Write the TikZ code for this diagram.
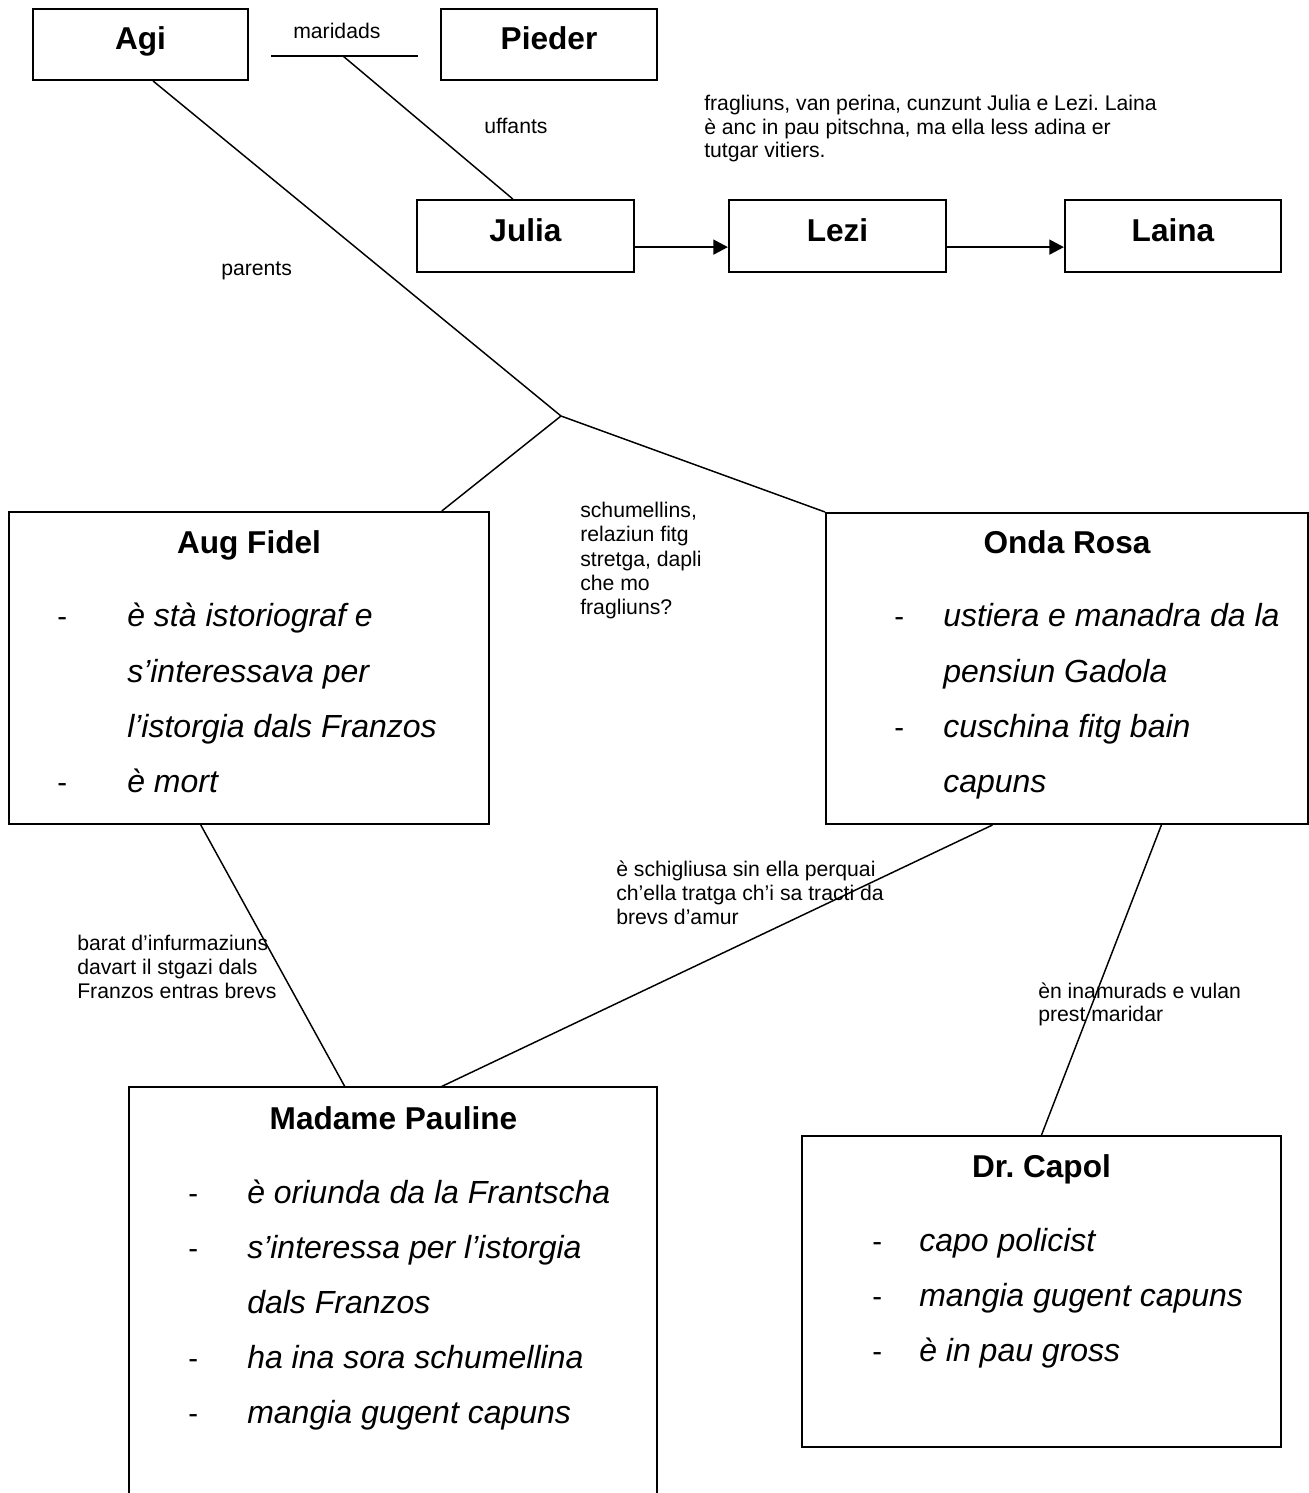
\documentclass[tikz,border=0pt]{standalone}
\usepackage{fontspec}
\setmainfont{Liberation Sans}
\usetikzlibrary{arrows.meta,calc,fit}
\frenchspacing
\begin{document}
\begin{tikzpicture}[x=0.75pt,y=-0.75pt,
  box/.style={draw, line width=1.5pt, inner sep=0pt},
  frame/.style={inner sep=0pt},
  ttl/.style={font=\fontsize{23.7}{28}\selectfont\bfseries, inner sep=0pt, anchor=base},
  itm/.style={font=\fontsize{24}{28}\selectfont\itshape, inner sep=0pt, anchor=base west},
  dsh/.style={font=\fontsize{22}{28}\selectfont, inner sep=0pt, anchor=base west},
  lab/.style={font=\fontsize{15.9}{17.6}\selectfont, inner sep=0pt, anchor=base west},
  conn/.style={line width=1.1pt},
  arr/.style={line width=2pt, -{Triangle[length=11pt,width=11pt]}}]

\useasboundingbox (0,0) rectangle (1309,1493);

% boxes
\node[box, fit={(33,9) (248,80)}] (agi) {};
\node[box, fit={(441,9) (657,80)}] (pieder) {};
\node[box, fit={(417,200) (634,272)}] (julia) {};
\node[box, fit={(729,200) (946,272)}] (lezi) {};
\node[box, fit={(1065,200) (1281,272)}] (laina) {};
\node[box, fit={(9,512) (489,824)}] (aug) {};
\node[box, fit={(826,513) (1308,824)}] (onda) {};
\node[frame, fit={(129,1087) (657,1498)}] (mp) {};
\draw[line width=1.5pt] (mp.south west) -- (mp.north west) -- (mp.north east) -- (mp.south east);
\node[box, fit={(802,1136) (1281,1447)}] (capol) {};

% titles
\node[ttl] (agit) at (140.5,49) {Agi};
\node[ttl] (piedert) at (549,49) {Pieder};
\node[ttl] (juliat) at (525.5,241) {Julia};
\node[ttl] (lezit) at (837.5,241) {Lezi};
\node[ttl] (lainat) at (1173,241) {Laina};
\node[ttl] (augt) at (249,553) {Aug Fidel};
\node[ttl] (ondat) at (1067,553) {Onda Rosa};
\node[ttl] (mpt) at (393.5,1129) {Madame Pauline};
\node[ttl] (capolt) at (1041.5,1177) {Dr. Capol};

% Aug Fidel items
\node[dsh] (a1d) at (57,626) {-};
\node[itm] (a1) at (127,626) {è stà istoriograf e};
\node[itm] (a2) at (127,682) {s’interessava per};
\node[itm] (a3) at (127,737) {l’istorgia dals Franzos};
\node[dsh] (a4d) at (57,792) {-};
\node[itm] (a4) at (127,792) {è mort};

% Onda Rosa items
\node[dsh] (o1d) at (894,626) {-};
\node[itm] (o1) at (943,626) {ustiera e manadra da la};
\node[itm] (o2) at (943,682) {pensiun Gadola};
\node[dsh] (o3d) at (894,737) {-};
\node[itm] (o3) at (943,737) {cuschina fitg bain};
\node[itm] (o4) at (943,792) {capuns};

% Madame Pauline items
\node[dsh] (p1d) at (188,1203) {-};
\node[itm] (p1) at (247,1203) {è oriunda da la Frantscha};
\node[dsh] (p2d) at (188,1258) {-};
\node[itm] (p2) at (247,1258) {s’interessa per l’istorgia};
\node[itm] (p3) at (247,1313) {dals Franzos};
\node[dsh] (p4d) at (188,1368) {-};
\node[itm] (p4) at (247,1368) {ha ina sora schumellina};
\node[dsh] (p5d) at (188,1423) {-};
\node[itm] (p5) at (247,1423) {mangia gugent capuns};

% Dr. Capol items
\node[dsh] (c1d) at (872,1251) {-};
\node[itm] (c1) at (919,1251) {capo policist};
\node[dsh] (c2d) at (872,1306) {-};
\node[itm] (c2) at (919,1306) {mangia gugent capuns};
\node[dsh] (c3d) at (872,1361) {-};
\node[itm] (c3) at (919,1361) {è in pau gross};

% labels
\node[lab] (lmar) at (293,38) {maridads};
\node[lab] (luff) at (484,133) {uffants};
\node[lab] (lpar) at (221,275) {parents};
\node[lab] (lf1) at (704,110) {fragliuns, van perina, cunzunt Julia e Lezi. Laina};
\node[lab] (lf2) at (704,134) {è anc in pau pitschna, ma ella less adina er};
\node[lab] (lf3) at (704,157) {tutgar vitiers.};
\node[lab] (ls1) at (580,517) {schumellins,};
\node[lab] (ls2) at (580,541) {relaziun fitg};
\node[lab] (ls3) at (580,566) {stretga, dapli};
\node[lab] (ls4) at (580,590) {che mo};
\node[lab] (ls5) at (580,614) {fragliuns?};
\node[lab] (lb1) at (77,950) {barat d’infurmaziuns};
\node[lab] (lb2) at (77,974) {davart il stgazi dals};
\node[lab] (lb3) at (77,998) {Franzos entras brevs};
\node[lab] (le1) at (616,876) {è schigliusa sin ella perquai};
\node[lab] (le2) at (616,900) {ch’ella tratga ch’i sa tracti da};
\node[lab] (le3) at (616,924) {brevs d’amur};
\node[lab] (li1) at (1038,998) {èn inamurads e vulan};
\node[lab] (li2) at (1038,1021) {prest maridar};

% connectors
\coordinate (m1) at (271,56);
\coordinate (m2) at (418,56);
\coordinate (jn) at (561,416);
\draw[conn] (m1) -- (m2);
\draw[conn] ($(m1)!0.49!(m2)$) -- ($(julia.north west)!0.442!(julia.north east)$);
\draw[conn] ($(agi.south west)!0.558!(agi.south east)$) -- (jn);
\draw[conn] (jn) -- ($(aug.north west)!0.9!(aug.north east)$);
\draw[conn] (jn) -- (onda.north west);
\draw[conn] ($(aug.south west)!0.4!(aug.south east)$) -- ($(mp.north west)!0.409!(mp.north east)$);
\draw[conn] ($(onda.south west)!0.346!(onda.south east)$) -- ($(mp.north west)!0.591!(mp.north east)$);
\draw[conn] ($(onda.south west)!0.695!(onda.south east)$) -- (capol.north);

\draw[arr] ($(julia.south east)!0.35!(julia.north east)$) -- ($(lezi.south west)!0.35!(lezi.north west)$);
\draw[arr] ($(lezi.south east)!0.35!(lezi.north east)$) -- ($(laina.south west)!0.35!(laina.north west)$);
\end{tikzpicture}
\end{document}
